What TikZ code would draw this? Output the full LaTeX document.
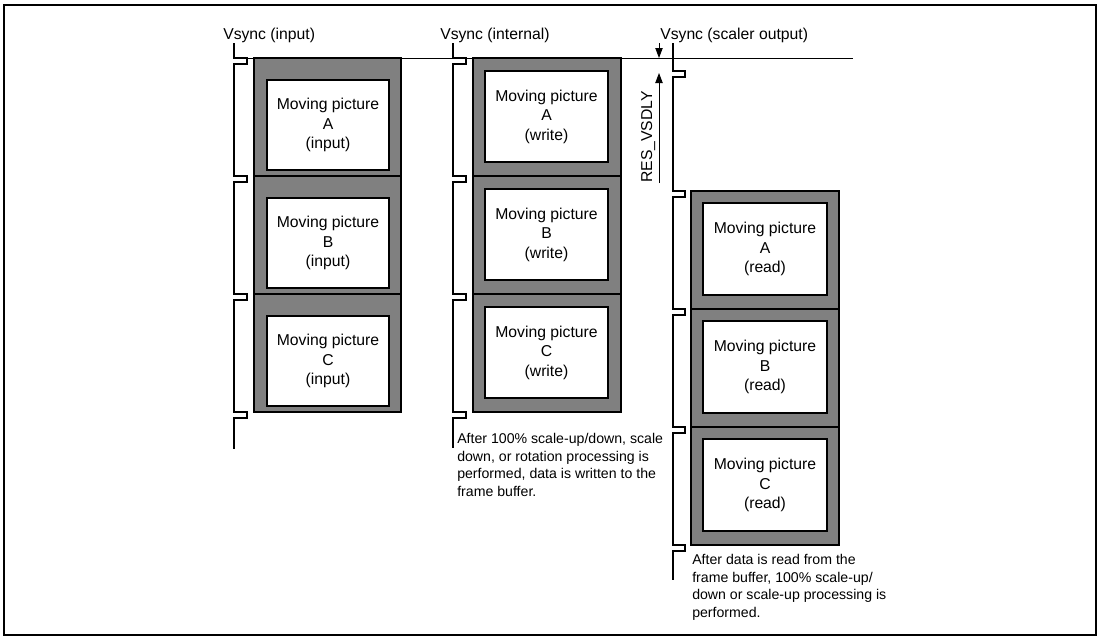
\documentclass[tikz,border=0pt]{standalone}
\usepackage{fontspec}
\setmainfont{Liberation Sans}
\usetikzlibrary{arrows.meta}

\begin{document}
\begin{tikzpicture}[x=0.75pt, y=-0.75pt, every node/.style={inner sep=0pt, font=\fontsize{11.8}{14.6}\selectfont}]
\tikzset{
    sig/.style={line width=1.4pt},
    grayfr/.style={draw, fill=gray, line width=1.4pt},
    whitefr/.style={draw, fill=white, line width=1.4pt},
    pictxt/.style={align=center},
    note/.style={align=left, anchor=north west, font=\fontsize{10.6}{13.3}\selectfont},
    dly/.style={-{Triangle[length=7.5pt, width=5.5pt]}, line width=0.7pt}
}
\useasboundingbox (0,0) rectangle (1100,639);
\draw[line width=1.5pt] (3.5,4.5) rectangle (1096,635);
% --- riferimento orizzontale ---
\draw[line width=0.75pt] (234,58) -- (853,58);
% --- Vsync (input) ---
\begin{scope}
    \node[anchor=base west] (lin) at (223,39) {Vsync (input)};
    \draw[sig] (234,43) \foreach \p in {58,176,294,412} { -- (234,\p) -- ++(13,0) -- ++(0,6) -- ++(-13,0) } -- (234,449);
    \foreach \lbl [count=\k from 0] in {A,B,C} {
        \draw[grayfr] (254,{58+118*\k}) rectangle ++(147,118);
        \draw[whitefr] (267,{80+118*\k}) rectangle ++(122,90);
        \node[pictxt] (in\lbl) at (328,{125+118*\k}) {Moving picture\\\lbl\\(input)};
    }
\end{scope}
% --- Vsync (internal) ---
\begin{scope}
    \node[anchor=base west] (lint) at (440,39) {Vsync (internal)};
    \draw[sig] (453,43) \foreach \p in {58,176,294,412} { -- (453,\p) -- ++(13,0) -- ++(0,6) -- ++(-13,0) } -- (453,448);
    \foreach \lbl [count=\k from 0] in {A,B,C} {
        \draw[grayfr] (473,{58+118*\k}) rectangle ++(148,118);
        \draw[whitefr] (485,{71+118*\k}) rectangle ++(123,91);
        \node[pictxt] (wr\lbl) at (546.5,{116.5+118*\k}) {Moving picture\\\lbl\\(write)};
    }
    \node[note] (notewr) at (457,433) {After 100\% scale-up/down, scale\\down, or rotation processing is\\performed, data is written to the\\frame buffer.};
\end{scope}
% --- Vsync (scaler output) ---
\begin{scope}
    \node[anchor=base west] (lout) at (660,39) {Vsync (scaler output)};
    \draw[sig] (673,43) \foreach \p in {71,191,309,427,545} { -- (673,\p) -- ++(12,0) -- ++(0,6) -- ++(-12,0) } -- (673,580);
    \foreach \lbl [count=\k from 0] in {A,B,C} {
        \draw[grayfr] (691,{191+118*\k}) rectangle ++(148,118);
        \draw[whitefr] (703,{203+118*\k}) rectangle ++(124,92);
        \node[pictxt] (rd\lbl) at (765,{249+118*\k}) {Moving picture\\\lbl\\(read)};
    }
    \node[note] (noterd) at (692,554) {After data is read from the\\frame buffer, 100\% scale-up/\\down or scale-up processing is\\performed.};
    % ritardo RES_VSDLY
    \coordinate (dtop) at (659,43);
    \coordinate (dref) at (659,58);
    \coordinate (dbot) at (659,183);
    \coordinate (dpls) at (659,73);
    \draw[dly] (dtop) -- (dref);
    \draw[dly] (dbot) -- (dpls);
    \node[rotate=90, anchor=base west] (vsdly) at (652,183) {RES\_VSDLY};
\end{scope}
\end{tikzpicture}
\end{document}
